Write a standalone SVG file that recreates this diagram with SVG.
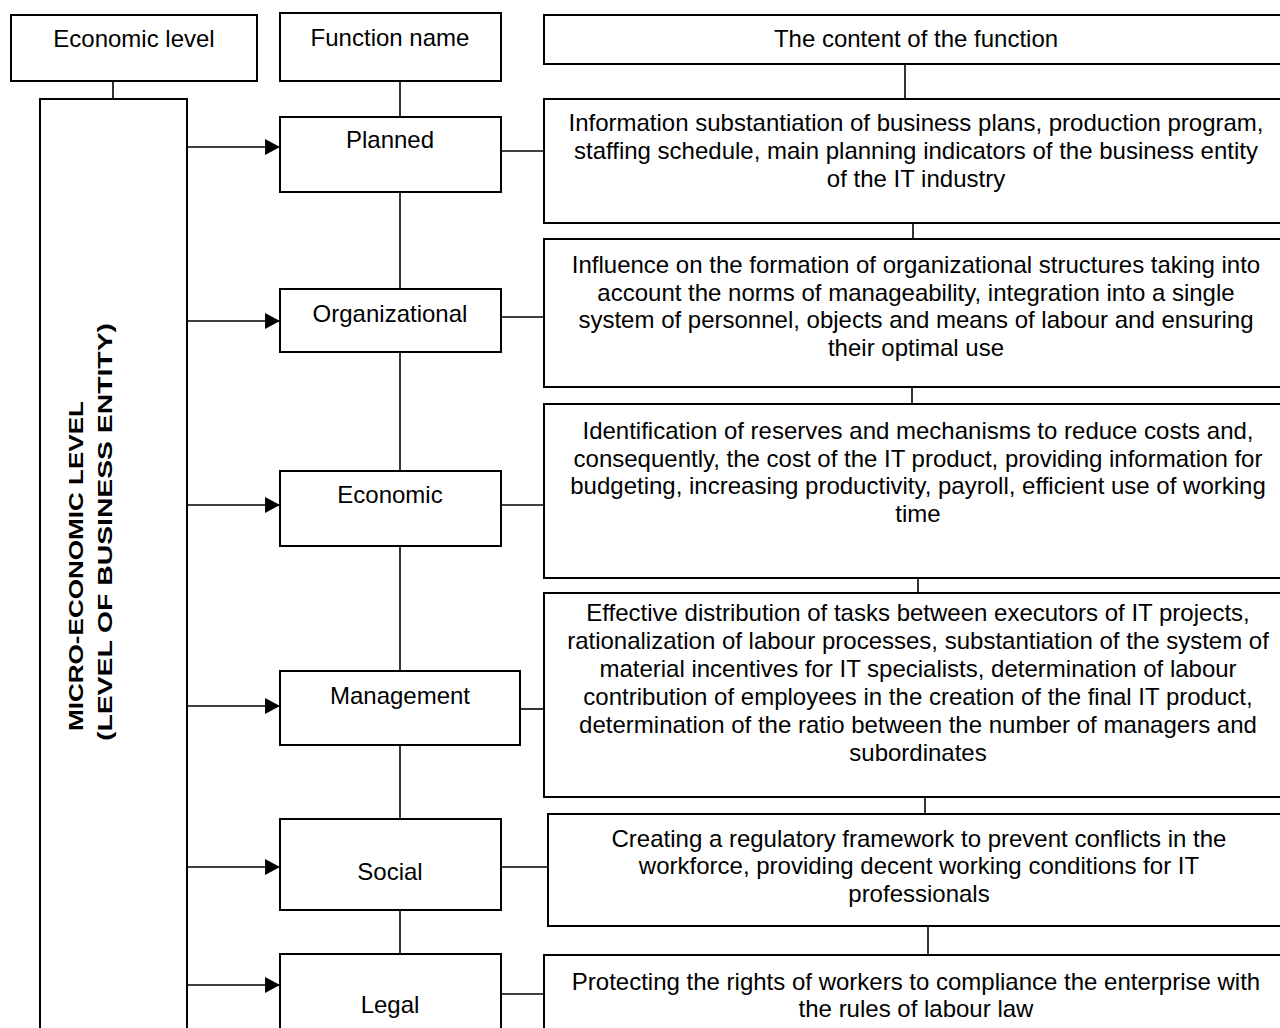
<svg xmlns="http://www.w3.org/2000/svg" width="1280" height="1028" viewBox="0 0 1280 1028">
<defs>
<style>
.box{fill:#fff;stroke:#000;stroke-width:2}
.ln{stroke:#000;stroke-width:1.6;fill:none}
.t{font-family:"Liberation Sans",Arial,sans-serif;font-size:24px;fill:#000;text-anchor:middle}
.b{font-family:"Liberation Sans",Arial,sans-serif;font-size:21px;font-weight:bold;fill:#000;text-anchor:middle}
</style>
<marker id="ah" markerUnits="userSpaceOnUse" markerWidth="16" markerHeight="16" viewBox="0 0 14 15" refX="14" refY="7.5" orient="auto">
<path d="M0,0 L14,7.5 L0,15 Z" fill="#000"/>
</marker>
</defs>
<rect width="1280" height="1028" fill="#fff"/>

<g id="connectors">
<line class="ln" x1="113" y1="81" x2="113" y2="99"/>
<line class="ln" x1="400" y1="81" x2="400" y2="117"/>
<line class="ln" x1="905" y1="64" x2="905" y2="99"/>
<line class="ln" x1="400" y1="192" x2="400" y2="289"/>
<line class="ln" x1="400" y1="352" x2="400" y2="471"/>
<line class="ln" x1="400" y1="546" x2="400" y2="671"/>
<line class="ln" x1="400" y1="745" x2="400" y2="819"/>
<line class="ln" x1="400" y1="910" x2="400" y2="954"/>
<line class="ln" x1="913" y1="223" x2="913" y2="239"/>
<line class="ln" x1="912" y1="387" x2="912" y2="404"/>
<line class="ln" x1="918" y1="578" x2="918" y2="593"/>
<line class="ln" x1="925" y1="797" x2="925" y2="814"/>
<line class="ln" x1="928" y1="926" x2="928" y2="955"/>
<line class="ln" x1="187" y1="147" x2="280" y2="147" marker-end="url(#ah)"/>
<line class="ln" x1="187" y1="321" x2="280" y2="321" marker-end="url(#ah)"/>
<line class="ln" x1="187" y1="505" x2="280" y2="505" marker-end="url(#ah)"/>
<line class="ln" x1="187" y1="706" x2="280" y2="706" marker-end="url(#ah)"/>
<line class="ln" x1="187" y1="867" x2="280" y2="867" marker-end="url(#ah)"/>
<line class="ln" x1="187" y1="985" x2="280" y2="985" marker-end="url(#ah)"/>
<line class="ln" x1="501" y1="151" x2="544" y2="151"/>
<line class="ln" x1="501" y1="317" x2="544" y2="317"/>
<line class="ln" x1="501" y1="505" x2="544" y2="505"/>
<line class="ln" x1="520" y1="709" x2="544" y2="709"/>
<line class="ln" x1="501" y1="867" x2="548" y2="867"/>
<line class="ln" x1="501" y1="994" x2="544" y2="994"/>
</g>

<g id="hdr-level">
<rect class="box" x="11" y="15" width="246" height="66"/>
<text class="t" x="134" y="47">Economic level</text>
</g>
<g id="hdr-name">
<rect class="box" x="280" y="13" width="221" height="68"/>
<text class="t" x="390" y="46">Function name</text>
</g>
<g id="hdr-content">
<rect class="box" x="544" y="15" width="745" height="49"/>
<text class="t" x="916" y="47">The content of the function</text>
</g>

<g id="micro-level">
<rect class="box" x="40" y="99" width="147" height="940"/>
<text class="b" transform="translate(83,566) rotate(-90)" textLength="330" lengthAdjust="spacingAndGlyphs">MICRO-ECONOMIC LEVEL</text>
<text class="b" transform="translate(112,532) rotate(-90)" textLength="418" lengthAdjust="spacingAndGlyphs">(LEVEL OF BUSINESS ENTITY)</text>
</g>

<g id="f-planned">
<rect class="box" x="280" y="117" width="221" height="75"/>
<text class="t" x="390" y="148">Planned</text>
</g>
<g id="f-organizational">
<rect class="box" x="280" y="289" width="221" height="63"/>
<text class="t" x="390" y="322">Organizational</text>
</g>
<g id="f-economic">
<rect class="box" x="280" y="471" width="221" height="75"/>
<text class="t" x="390" y="503">Economic</text>
</g>
<g id="f-management">
<rect class="box" x="280" y="671" width="240" height="74"/>
<text class="t" x="400" y="704">Management</text>
</g>
<g id="f-social">
<rect class="box" x="280" y="819" width="221" height="91"/>
<text class="t" x="390" y="880">Social</text>
</g>
<g id="f-legal">
<rect class="box" x="280" y="954" width="221" height="90"/>
<text class="t" x="390" y="1013">Legal</text>
</g>

<g id="c-planned">
<rect class="box" x="544" y="99" width="745" height="124"/>
<text class="t" x="916" y="131">Information substantiation of business plans, production program,</text>
<text class="t" x="916" y="159">staffing schedule, main planning indicators of the business entity</text>
<text class="t" x="916" y="187">of the IT industry</text>
</g>
<g id="c-organizational">
<rect class="box" x="544" y="239" width="745" height="148"/>
<text class="t" x="916" y="273">Influence on the formation of organizational structures taking into</text>
<text class="t" x="916" y="301">account the norms of manageability, integration into a single</text>
<text class="t" x="916" y="328">system of personnel, objects and means of labour and ensuring</text>
<text class="t" x="916" y="356">their optimal use</text>
</g>
<g id="c-economic">
<rect class="box" x="544" y="404" width="745" height="174"/>
<text class="t" x="918" y="439">Identification of reserves and mechanisms to reduce costs and,</text>
<text class="t" x="918" y="467">consequently, the cost of the IT product, providing information for</text>
<text class="t" x="918" y="494">budgeting, increasing productivity, payroll, efficient use of working</text>
<text class="t" x="918" y="522">time</text>
</g>
<g id="c-management">
<rect class="box" x="544" y="593" width="745" height="204"/>
<text class="t" x="918" y="621">Effective distribution of tasks between executors of IT projects,</text>
<text class="t" x="918" y="649">rationalization of labour processes, substantiation of the system of</text>
<text class="t" x="918" y="677">material incentives for IT specialists, determination of labour</text>
<text class="t" x="918" y="705">contribution of employees in the creation of the final IT product,</text>
<text class="t" x="918" y="733">determination of the ratio between the number of managers and</text>
<text class="t" x="918" y="761">subordinates</text>
</g>
<g id="c-social">
<rect class="box" x="548" y="814" width="741" height="112"/>
<text class="t" x="919" y="847">Creating a regulatory framework to prevent conflicts in the</text>
<text class="t" x="919" y="874">workforce, providing decent working conditions for IT</text>
<text class="t" x="919" y="902">professionals</text>
</g>
<g id="c-legal">
<rect class="box" x="544" y="955" width="745" height="90"/>
<text class="t" x="916" y="990">Protecting the rights of workers to compliance the enterprise with</text>
<text class="t" x="916" y="1017">the rules of labour law</text>
</g>
</svg>
